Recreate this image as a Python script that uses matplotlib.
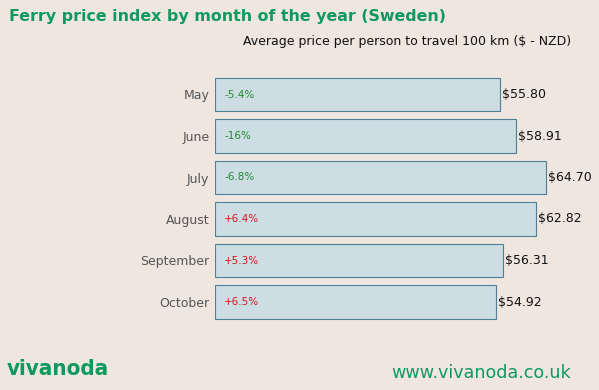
import matplotlib
matplotlib.use("Agg")
import matplotlib.pyplot as plt

months = ["May", "June", "July", "August", "September", "October"]
prices = [55.80, 58.91, 64.70, 62.82, 56.31, 54.92]
changes = ["-5.4%", "-16%", "-6.8%", "+6.4%", "+5.3%", "+6.5%"]

bg = "#EFE6E0"
green = "#0E9A5C"
W, H = 599, 390
fig = plt.figure(figsize=(W/100, H/100), dpi=100, facecolor=bg)

left, right = 215, 599
top, bottom = 73.75, 322.75
ax = fig.add_axes([left/W, 1-bottom/H, (right-left)/W, (bottom-top)/H])
ax.set_facecolor(bg)
ax.set_xlim(0, (right-left)/5.116)
ax.set_ylim(len(months)-0.5, -0.5)

y = list(range(len(months)))
ax.barh(y, prices, height=0.8, color="#CCDDE3", edgecolor="#4F7F95", linewidth=0.8)
for yi, p, c in zip(y, prices, changes):
    ax.text(p + 0.3, yi, f"${p:.2f}", va="center", ha="left", fontsize=9, color="#111111")
    col = "#1E8A2E" if c.startswith("-") else "#D8141C"
    ax.text(1.8, yi, c, va="center", ha="left", fontsize=7.5, color=col)

ax.set_yticks(y)
ax.set_yticklabels(months, fontsize=9, color="#555555")
ax.tick_params(axis="y", length=0, pad=4)
ax.set_xticks([])
for s in ax.spines.values():
    s.set_visible(False)

fig.text(9/W, 1-17/H, "Ferry price index by month of the year (Sweden)", fontsize=11.4,
         fontweight="bold", color=green, va="center", ha="left")
fig.text(571/W, 1-41/H, "Average price per person to travel 100 km ($ - NZD)", fontsize=9,
         color="#111111", va="center", ha="right")
fig.text(7/W, 1-369/H, "vivanoda", fontsize=16, fontweight="bold", color=green,
         va="center", ha="left", family="DejaVu Sans", stretch="condensed")
fig.text(571/W, 1-373/H, "www.vivanoda.co.uk", fontsize=12.6, color=green,
         va="center", ha="right")

fig.savefig("out.png", dpi=100, facecolor=bg)
